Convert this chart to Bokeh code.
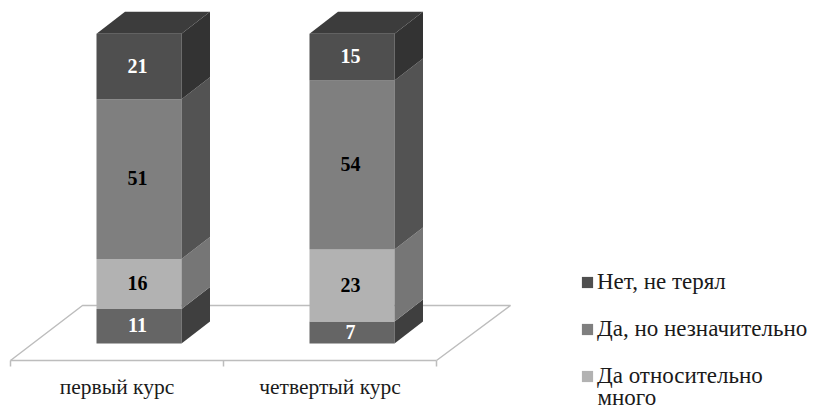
from bokeh.embed import file_html
from bokeh.resources import INLINE
from bokeh.plotting import figure
from bokeh.models import Range1d, FixedTicker, Legend, LegendItem, Label
from bokeh.core.properties import value
import numpy as np

categories = ["первый курс", "четвертый курс"]
series_bottom = [11, 7]
series_light = [16, 23]
series_mid = [51, 54]
series_top = [21, 15]
legend_top = "Нет, не терял"
legend_mid = "Да, но незначительно"
legend_light = "Да относительно"
legend_light_2 = "много"

FONT = "Liberation Serif"
layers = [
    (series_bottom, "#656565", "#3f3f3f", "#ffffff", None),
    (series_light, "#b2b2b2", "#767676", "#000000", legend_light),
    (series_mid, "#7f7f7f", "#535353", "#000000", legend_mid),
    (series_top, "#4f4f4f", "#333333", "#ffffff", legend_top),
]

slot = 213.0
unit = 3.13
bar_w = 85 / slot
dx = 28.5 / slot
dy = 22 / unit
centers = np.arange(len(categories)) + 0.5 + 22 / slot
floor_front = -17 / unit

p = figure(width=814, height=411, output_backend="svg", toolbar_location=None,
           x_range=Range1d(-10 / slot, 804 / slot), y_range=Range1d(-68 / unit, 343 / unit),
           min_border_left=0, min_border_right=0, min_border_top=0, min_border_bottom=0)
p.outline_line_color = None
p.grid.visible = False
p.yaxis.visible = False
p.background_fill_color = "#ffffff"

floor_x = [0, 72 / slot, 2 + 74 / slot, 2]
floor_y = [floor_front, 38 / unit, 38 / unit, floor_front]
p.line(floor_x, floor_y, line_color="#bdbdbd", line_width=1.5)

ax = p.xaxis[0]
ax.fixed_location = floor_front
ax.ticker = FixedTicker(ticks=list(np.arange(len(categories)) + 0.5), minor_ticks=[0, 1, 2])
ax.major_label_overrides = {float(i + 0.5): c for i, c in enumerate(categories)}
ax.bounds = (0, 2)
ax.axis_line_color = "#bdbdbd"
ax.axis_line_width = 1.5
ax.major_tick_line_color = None
ax.minor_tick_line_color = "#bdbdbd"
ax.minor_tick_line_width = 1.5
ax.minor_tick_out = 6
ax.minor_tick_in = 0
ax.major_tick_out = 0
ax.major_tick_in = 0
ax.major_label_standoff = 8
ax.major_label_text_font = FONT
ax.major_label_text_font_size = "21.5px"
ax.major_label_text_color = "#1a1a1a"

base = np.zeros(len(categories))
items = []
for vals, front, side, txt, name in layers:
    vals = np.array(vals, dtype=float)
    top = base + vals
    left = centers - bar_w / 2
    right = centers + bar_w / 2
    r = p.quad(left=left, right=right, bottom=base, top=top, fill_color=front, line_color=None)
    p.patches([[a, a + dx, a + dx, a] for a in right],
              [[b, b + dy, t + dy, t] for b, t in zip(base, top)],
              fill_color=side, line_color=None)
    p.text(centers - 1.5 / slot, (base + top) / 2 + 0.3, text=[str(int(v)) for v in vals],
           text_align="center", text_baseline="middle", text_color=txt,
           text_font=value(FONT), text_font_style="bold", text_font_size="20px")
    if name:
        items.insert(0, LegendItem(label=value(name), renderers=[r]))
    base = top

p.patches([[a, a + bar_w, a + bar_w + dx, a + dx] for a in centers - bar_w / 2],
          [[t, t, t + dy, t + dy] for t in base],
          fill_color="#3c3c3c", line_color=None)

legend = Legend(items=items, location=(580, 22), background_fill_alpha=0, border_line_color=None,
                glyph_width=14, glyph_height=14, label_standoff=3, padding=0, margin=0, spacing=21,
                label_text_font=FONT, label_text_font_size="23px", label_text_color="#1a1a1a")
p.add_layout(legend, "center")
p.add_layout(Label(x=587 / slot, y=-54 / unit, text=legend_light_2, text_baseline="middle",
                   text_font=FONT, text_font_size="23px", text_color="#1a1a1a"))

open("out.html", "w").write(file_html(p, INLINE))
